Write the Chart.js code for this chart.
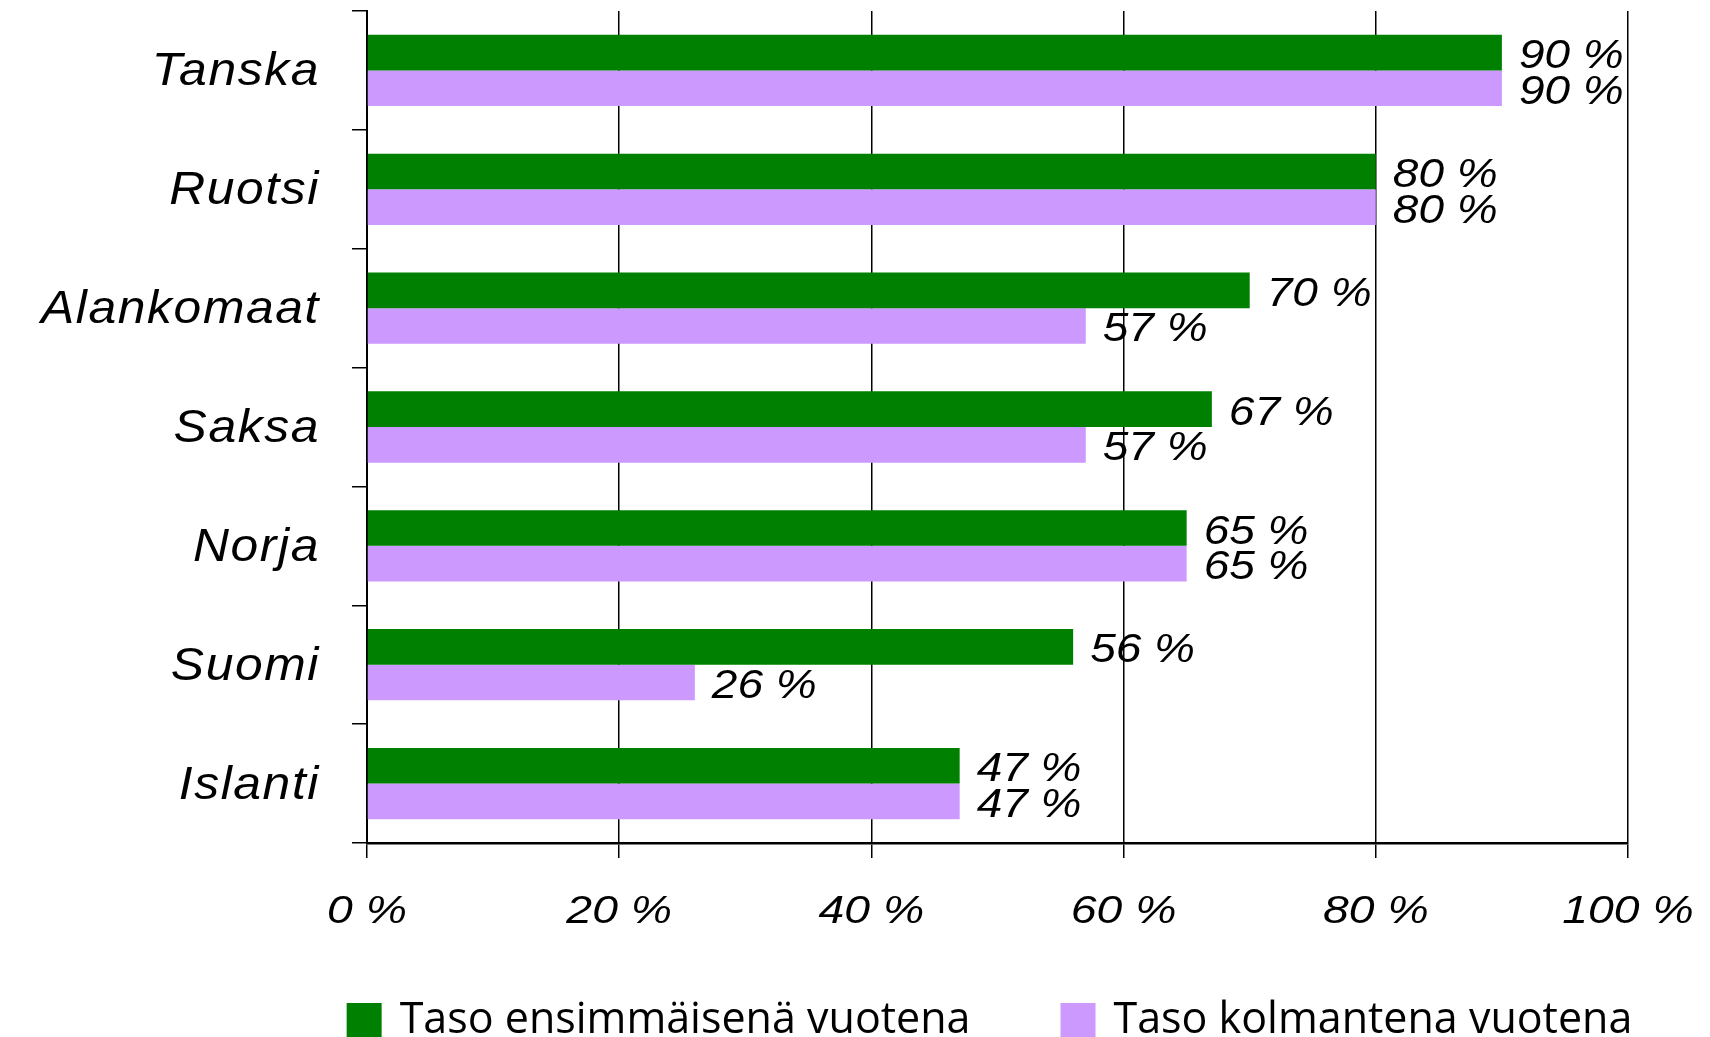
<!DOCTYPE html>
<html>
<head>
<meta charset="utf-8">
<script src="https://cdn.jsdelivr.net/npm/chart.js@4.4.1/dist/chart.umd.min.js"></script>
<style>
  html, body { margin: 0; padding: 0; overflow: hidden; background: #fff; }
  .canvas-container { width: 1710px; height: 1037px; }
</style>
</head>
<body>
<div class="canvas-container"><canvas id="barchart"></canvas></div>
<script>
const countries = ["Tanska", "Ruotsi", "Alankomaat", "Saksa", "Norja", "Suomi", "Islanti"];
const firstYear = [90, 80, 70, 67, 65, 56, 47];
const thirdYear = [90, 80, 57, 57, 65, 26, 47];
const xTicks = [0, 20, 40, 60, 80, 100];
const seriesNames = ["Taso ensimmäisenä vuotena", "Taso kolmantena vuotena"];
const seriesColors = ["#008000", "#cc99ff"];

const italic = "'Liberation Sans', Arial, sans-serif";

// the original text is stretched sideways, so draw it with a horizontal scale
function wideText(ctx, text, x, y, sx, align) {
  ctx.save();
  ctx.translate(x, y);
  ctx.scale(sx, 1);
  ctx.textAlign = align;
  ctx.fillText(text, 0, 0);
  ctx.restore();
}

const textPlugin = {
  id: "textPlugin",
  afterDatasetsDraw(chart) {
    const ctx = chart.ctx;
    const xs = chart.scales.x, ys = chart.scales.y;
    const area = chart.chartArea;
    ctx.save();
    ctx.fillStyle = "#000";
    ctx.textBaseline = "alphabetic";

    ctx.font = "italic 47px " + italic;
    ctx.letterSpacing = "1.5px";
    countries.forEach((c, i) => {
      wideText(ctx, c, area.left - 47, ys.getPixelForValue(i) + 15, 1.06, "right");
    });
    ctx.letterSpacing = "0px";

    ctx.font = "italic 38px " + italic;
    xTicks.forEach(v => {
      wideText(ctx, v + " %", xs.getPixelForValue(v), area.bottom + 80, 1.22, "center");
    });

    ctx.font = "italic 40px " + italic;
    chart.data.datasets.forEach((ds, d) => {
      chart.getDatasetMeta(d).data.forEach((bar, i) => {
        wideText(ctx, ds.data[i] + " %", bar.x + 17, bar.y + 15.5, 1.15, "left");
      });
    });

    // legend: one row under the axis, gap of 90px between the two entries
    ctx.font = "43px 'Open Sans', sans-serif";
    ctx.textAlign = "left";
    const box = 35, gap = 18, between = 90;
    const widths = chart.data.datasets.map(ds => box + gap + ctx.measureText(ds.label).width);
    const total = widths[0] + between + widths[1];
    let x = (area.left + area.right) / 2 - 8 - total / 2;
    const top = area.bottom + 160;
    chart.data.datasets.forEach((ds, d) => {
      ctx.fillStyle = ds.backgroundColor;
      ctx.fillRect(x, top, box, box);
      ctx.fillStyle = "#000";
      ctx.fillText(ds.label, x + box + gap, top + 30);
      x += widths[d] + between;
    });
    ctx.restore();
  }
};

new Chart(document.getElementById("barchart"), {
  type: "bar",
  data: {
    labels: countries,
    datasets: [{
      label: seriesNames[0],
      data: firstYear,
      backgroundColor: seriesColors[0],
      categoryPercentage: 0.6,
      barPercentage: 1.0
    }, {
      label: seriesNames[1],
      data: thirdYear,
      backgroundColor: seriesColors[1],
      categoryPercentage: 0.6,
      barPercentage: 1.0
    }]
  },
  options: {
    indexAxis: "y",
    responsive: true,
    maintainAspectRatio: false,
    animation: false,
    events: [],
    layout: { padding: { left: 352, right: 82, top: 11, bottom: 126 } },
    scales: {
      x: {
        min: 0,
        max: 100,
        ticks: { display: false, stepSize: 20 },
        grid: { color: "#000", lineWidth: 1.5, tickLength: 15 },
        border: { color: "#000", width: 2.5 },
        afterFit: s => { s.height = 68; }
      },
      y: {
        ticks: { display: false },
        grid: { drawOnChartArea: false, color: "#000", lineWidth: 1.5, tickLength: 15 },
        border: { color: "#000", width: 2 }
      }
    },
    plugins: {
      legend: { display: false },
      tooltip: { enabled: false }
    }
  },
  plugins: [textPlugin]
});
</script>
</body>
</html>
